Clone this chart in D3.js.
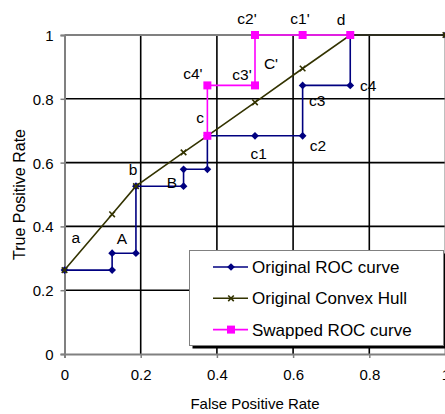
<!DOCTYPE html>
<html>
<head>
<meta charset="utf-8">
<script src="https://cdn.jsdelivr.net/npm/d3@7"></script>
<style>
  body { margin: 0; background: #fff; }
  svg { display: block; font-family: "Liberation Sans", Arial, sans-serif; }
</style>
</head>
<body>
<script>
// ROC data
var rocFpr = [0, 0.125, 0.125, 0.1875, 0.1875, 0.3125, 0.3125, 0.375, 0.375, 0.5, 0.625, 0.625, 0.75, 0.75, 1];
var rocTpr = [0.263, 0.263, 0.316, 0.316, 0.526, 0.526, 0.579, 0.579, 0.684, 0.684, 0.684, 0.842, 0.842, 1, 1];
var hullFpr = [0, 0.125, 0.1875, 0.3125, 0.375, 0.5, 0.625, 0.75, 1];
var hullTpr = [0.263, 0.438, 0.526, 0.632, 0.684, 0.789, 0.895, 1, 1];
var swapFpr = [0.375, 0.375, 0.5, 0.5, 0.625, 0.75];
var swapTpr = [0.684, 0.842, 0.842, 1, 1, 1];
var tickValues = [0, 0.2, 0.4, 0.6, 0.8, 1];
var seriesNames = ["Original ROC curve", "Original Convex Hull", "Swapped ROC curve"];
var noteText = ["a", "A", "b", "B", "c4'", "c", "c3'", "C'", "c2'", "c1'", "d", "c4", "c3", "c1", "c2"];
var noteFpr = [0.03, 0.151, 0.18, 0.282, 0.337, 0.356, 0.466, 0.542, 0.479, 0.618, 0.726, 0.797, 0.663, 0.51, 0.665];
var noteTpr = [0.364, 0.361, 0.577, 0.536, 0.878, 0.74, 0.875, 0.909, 1.053, 1.053, 1.047, 0.84, 0.793, 0.627, 0.652];

var width = 445, height = 414;
var marginLeft = 64.5, marginTop = 35, plotW = 381, plotH = 319;

var svg = d3.select("body").append("svg").attr("width", width).attr("height", height);

var x = d3.scaleLinear().domain([0, 1]).range([marginLeft, marginLeft + plotW]);
var y = d3.scaleLinear().domain([0, 1]).range([marginTop + plotH, marginTop]);

// grid
var grid = [0.2, 0.4, 0.6, 0.8];
svg.append("g").selectAll("line.v").data(grid).enter().append("line")
    .attr("x1", function (d) { return x(d); }).attr("x2", function (d) { return x(d); })
    .attr("y1", y(0)).attr("y2", y(1))
    .attr("stroke", "#000").attr("stroke-width", 1.6);
svg.append("g").selectAll("line.h").data(grid).enter().append("line")
    .attr("x1", x(0)).attr("x2", x(1))
    .attr("y1", function (d) { return y(d); }).attr("y2", function (d) { return y(d); })
    .attr("stroke", "#000").attr("stroke-width", 1.6);

// frame top / right
svg.append("line").attr("x1", x(0)).attr("x2", x(1)).attr("y1", y(1)).attr("y2", y(1))
    .attr("stroke", "#808080").attr("stroke-width", 2);
svg.append("line").attr("x1", x(1)).attr("x2", x(1)).attr("y1", y(0)).attr("y2", y(1))
    .attr("stroke", "#808080").attr("stroke-width", 2);

// axes
var xAxis = svg.append("g").attr("transform", "translate(0," + y(0) + ")")
    .call(d3.axisBottom(x).tickValues(tickValues).tickFormat(d3.format("")).tickSize(4).tickPadding(11));
var yAxis = svg.append("g").attr("transform", "translate(" + x(0) + ",0)")
    .call(d3.axisLeft(y).tickValues(tickValues).tickFormat(d3.format("")).tickSize(4).tickPadding(7));
[xAxis, yAxis].forEach(function (g) {
    g.select(".domain").attr("stroke", "#808080").attr("stroke-width", 2);
    g.selectAll(".tick line").attr("stroke", "#808080").attr("stroke-width", 1.5);
    g.selectAll(".tick text").attr("fill", "#000").style("font-size", "15px")
        .style("font-family", "'Liberation Sans', Arial, sans-serif");
});
yAxis.selectAll(".tick text").attr("dy", "0.36em");

svg.append("text").attr("x", x(0.5)).attr("y", 409).attr("text-anchor", "middle")
    .style("font-size", "15px").text("False Positive Rate");
svg.append("text").attr("transform", "translate(25," + y(0.5) + ") rotate(-90)")
    .attr("text-anchor", "middle").style("font-size", "16px").text("True Positive Rate");

// series
var line = d3.line().x(function (d) { return x(d[0]); }).y(function (d) { return y(d[1]); });
var roc = d3.zip(rocFpr, rocTpr), hull = d3.zip(hullFpr, hullTpr), swap = d3.zip(swapFpr, swapTpr);

// excel style diamond = square turned 45 degrees
var diamond = d3.symbol().type(d3.symbolSquare).size(30);
var square = d3.symbol().type(d3.symbolSquare).size(64);
var cross = d3.symbol().type(d3.symbolTimes).size(22);
var markRotate = [45, 0, 0];

function drawSeries(data, color, sym, hollow, rot) {
    var g = svg.append("g");
    g.append("path").datum(data).attr("d", line).attr("fill", "none")
        .attr("stroke", color).attr("stroke-width", 1.6);
    g.selectAll("path.m").data(data).enter().append("path")
        .attr("transform", function (d) { return "translate(" + x(d[0]) + "," + y(d[1]) + ") rotate(" + rot + ")"; })
        .attr("d", sym)
        .attr("fill", hollow ? "none" : color)
        .attr("stroke", color).attr("stroke-width", hollow ? 1.6 : 0);
}
drawSeries(roc, "#000080", diamond, false, markRotate[0]);
drawSeries(hull, "#333300", cross, true, markRotate[1]);
drawSeries(swap, "#ff00ff", square, false, markRotate[2]);

// point notes
svg.append("g").selectAll("text").data(noteText).enter().append("text")
    .attr("x", function (d, i) { return x(noteFpr[i]); })
    .attr("y", function (d, i) { return y(noteTpr[i]); })
    .attr("dy", "0.35em").attr("text-anchor", "middle")
    .style("font-size", "15.5px").text(function (d) { return d; });

// legend
var lg = svg.append("g");
var lx = 189.5, ly = 250.5, lw = 254, lh = 95;
lg.append("rect").attr("x", lx + 3).attr("y", ly + 3).attr("width", lw).attr("height", lh).attr("fill", "#000");
lg.append("rect").attr("x", lx).attr("y", ly).attr("width", lw).attr("height", lh)
    .attr("fill", "#fff").attr("stroke", "#808080").attr("stroke-width", 1);
var legendColors = ["#000080", "#333300", "#ff00ff"];
var legendSyms = [diamond, cross, square];
seriesNames.forEach(function (name, i) {
    var ry = 267 + i * 31.3;
    lg.append("line").attr("x1", 213).attr("x2", 248).attr("y1", ry).attr("y2", ry)
        .attr("stroke", legendColors[i]).attr("stroke-width", 1.6);
    lg.append("path").attr("transform", "translate(231," + ry + ") rotate(" + markRotate[i] + ")").attr("d", legendSyms[i])
        .attr("fill", i == 1 ? "none" : legendColors[i])
        .attr("stroke", legendColors[i]).attr("stroke-width", i == 1 ? 1.6 : 0);
    lg.append("text").attr("x", 252).attr("y", ry).attr("dy", "0.36em")
        .style("font-size", "17px").text(name);
});
</script>
</body>
</html>
